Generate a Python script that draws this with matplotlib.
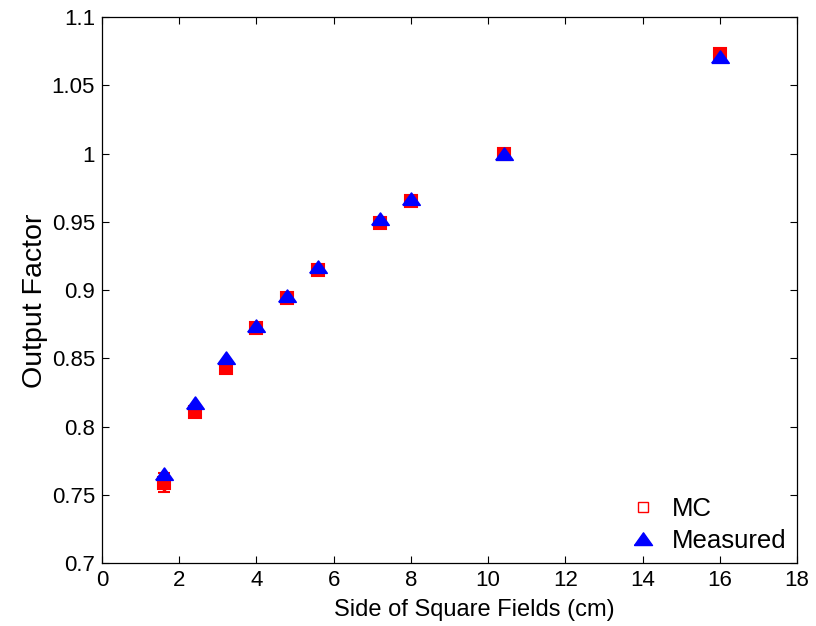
import matplotlib
matplotlib.use('Agg')
import matplotlib.pyplot as plt
from matplotlib.lines import Line2D

plt.rcParams['font.family'] = ['Liberation Sans', 'DejaVu Sans']

# field sizes (cm) and output factors
field_sides = [1.6, 2.4, 3.2, 4.0, 4.8, 5.6, 7.2, 8.0, 10.4, 16.0]
mc_values = [0.759, 0.811, 0.843, 0.872, 0.894, 0.915, 0.949, 0.965, 1.000, 1.073]
mc_errors = [0.007, 0.002, 0.002, 0.002, 0.002, 0.002, 0.002, 0.002, 0.001, 0.002]
measured_values = [0.765, 0.817, 0.850, 0.874, 0.896, 0.917, 0.952, 0.967, 1.000, 1.071]

x_ticks = [0, 2, 4, 6, 8, 10, 12, 14, 16, 18]
y_ticks = [0.7, 0.75, 0.8, 0.85, 0.9, 0.95, 1.0, 1.05, 1.1]
y_tick_labels = ['0.7', '0.75', '0.8', '0.85', '0.9', '0.95', '1', '1.05', '1.1']

# slightly wide triangle, like the MATLAB '^' marker
wide_tri = [(-1.35, -0.9), (1.35, -0.9), (0, 1.0), (-1.35, -0.9)]

fig = plt.figure(figsize=(8.16, 6.26), dpi=100)
ax = fig.add_axes([0.125, 0.1006, 0.8517, 0.872])

ax.errorbar(field_sides, mc_values, yerr=mc_errors, fmt='s', color='red',
            markersize=8, markerfacecolor='red', markeredgewidth=1.5,
            elinewidth=2.5, capsize=4, capthick=2.5, zorder=2)
ax.plot(field_sides, measured_values, marker=wide_tri, color='blue', markersize=12.5,
        markerfacecolor='blue', markeredgewidth=1.2, linestyle='none', zorder=3)

ax.set_xlim(0, 18)
ax.set_ylim(0.7, 1.1)
ax.set_xticks(x_ticks)
ax.set_yticks(y_ticks)
ax.set_yticklabels(y_tick_labels)
ax.tick_params(direction='in', top=True, right=True, labelsize=16, length=5,
               width=0.8, pad=5)
for spine in ax.spines.values():
    spine.set_linewidth(0.9)

ax.set_xlabel('Side of Square Fields (cm)', fontsize=17, labelpad=6)
ax.xaxis.label.set_x(0.535)
ax.set_ylabel('Output Factor', fontsize=20.5, labelpad=3)
ax.yaxis.label.set_y(0.48)

handles = [
    Line2D([], [], marker='s', color='red', markerfacecolor='none', markersize=7,
           markeredgewidth=1.0, linestyle='none'),
    Line2D([], [], marker=wide_tri, color='blue', markerfacecolor='blue', markersize=13,
           linestyle='none'),
]
ax.legend(handles, ['MC', 'Measured'], loc='lower right', frameon=False,
          fontsize=18.5, handlelength=1.5, handletextpad=0.4, borderaxespad=0.0,
          labelspacing=0.3)

fig.savefig('out.png', dpi=100)
